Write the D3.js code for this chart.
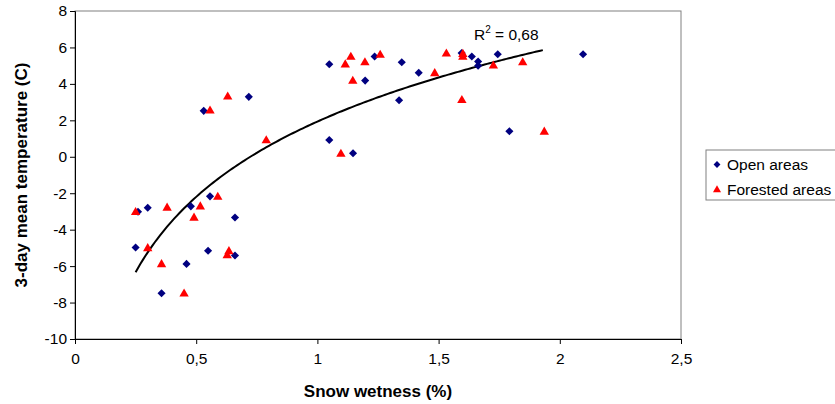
<!DOCTYPE html>
<html>
<head>
<meta charset="utf-8">
<script src="https://cdn.jsdelivr.net/npm/d3@7"></script>
<style>
  body { margin: 0; background: #fff; }
  text { font-family: "Liberation Sans", Arial, sans-serif; fill: #000; }
  .tick text { font-size: 15.5px; }
  .axis path, .axis line { stroke: #000; }
</style>
</head>
<body>
<div id="chart"></div>
<script>
//// DATA ////

// Open areas (snow wetness %, temperature C)
var openX = [0.26, 0.30, 0.478, 0.557, 0.66, 0.25, 0.549, 0.66, 0.46, 0.357,
  0.531, 0.717, 1.049, 1.236, 1.348, 1.197, 1.418, 1.337, 1.049, 1.147,
  1.595, 1.637, 1.663, 1.663, 1.744, 2.096, 1.792];
var openY = [-3.02, -2.80, -2.72, -2.17, -3.33, -4.98, -5.16, -5.42, -5.88, -7.49,
  2.52, 3.29, 5.08, 5.50, 5.19, 4.18, 4.61, 3.10, 0.92, 0.19,
  5.69, 5.50, 5.23, 5.00, 5.63, 5.63, 1.40];

// Forested areas
var forestX = [0.25, 0.38, 0.517, 0.589, 0.491, 0.30, 0.635, 0.628, 0.357, 0.45,
  0.557, 0.63, 0.789, 1.138, 1.115, 1.196, 1.259, 1.146, 1.484, 1.097,
  1.532, 1.60, 1.60, 1.726, 1.847, 1.596, 1.936];
var forestY = [-3.05, -2.81, -2.74, -2.21, -3.36, -5.03, -5.20, -5.42, -5.91, -7.52,
  2.52, 3.29, 0.89, 5.47, 5.05, 5.17, 5.58, 4.15, 4.57, 0.15,
  5.65, 5.63, 5.47, 4.99, 5.17, 3.10, 1.36];

var xTicks = [0, 0.5, 1, 1.5, 2, 2.5];
var yTicks = [-10, -8, -6, -4, -2, 0, 2, 4, 6, 8];
var seriesNames = ["Open areas", "Forested areas"];
var r2Text = "0,68"; // as printed on the chart

//// SET UP ////

var svgWidth = 835;
var svgHeight = 404;

var margin = { top: 11, right: 154, bottom: 65, left: 75 };
var width = svgWidth - margin.left - margin.right;
var height = svgHeight - margin.top - margin.bottom;

var svg = d3.select("#chart")
  .append("svg")
  .attr("width", svgWidth)
  .attr("height", svgHeight);

var chartGroup = svg.append("g")
  .attr("transform", `translate(${margin.left}, ${margin.top})`);

var xScale = d3.scaleLinear().domain([0, 2.5]).range([0, width]);
var yScale = d3.scaleLinear().domain([-10, 8]).range([height, 0]);

var fmt = d => String(d).replace(".", ",");

// plot area border (grey top / right)
chartGroup.append("rect")
  .attr("x", 0).attr("y", 0)
  .attr("width", width).attr("height", height)
  .attr("fill", "none")
  .attr("stroke", "#808080")
  .attr("stroke-width", 1);

// axes
var bottomAxis = d3.axisBottom(xScale).tickValues(xTicks).tickFormat(fmt)
  .tickSizeInner(5).tickSizeOuter(5).tickPadding(9);
var leftAxis = d3.axisLeft(yScale).tickValues(yTicks).tickFormat(fmt)
  .tickSizeInner(5).tickSizeOuter(5).tickPadding(3);

chartGroup.append("g")
  .attr("class", "axis")
  .attr("transform", `translate(0, ${height})`)
  .call(bottomAxis);

chartGroup.append("g")
  .attr("class", "axis")
  .call(leftAxis);

//// TREND LINE (log fit on forested areas) ////

var lx = forestX.map(Math.log);
var mx = d3.mean(lx), my = d3.mean(forestY);
var sxy = d3.sum(lx, (v, i) => (v - mx) * (forestY[i] - my));
var sxx = d3.sum(lx, v => (v - mx) * (v - mx));
var slope = sxy / sxx;
var intercept = my - slope * mx;

var xs = d3.range(d3.min(forestX), d3.max(forestX) + 0.001, 0.01);
var line = d3.line()
  .x(d => xScale(d))
  .y(d => yScale(slope * Math.log(d) + intercept));

chartGroup.append("path")
  .datum(xs)
  .attr("d", line)
  .attr("fill", "none")
  .attr("stroke", "#000")
  .attr("stroke-width", 2);

var r2Label = chartGroup.append("text")
  .attr("x", 399)
  .attr("y", 29)
  .style("font-size", "15.5px");
r2Label.append("tspan").text("R");
r2Label.append("tspan").attr("dy", -7).style("font-size", "10px").text("2");
r2Label.append("tspan").attr("dy", 7).text(" = " + r2Text);

//// POINTS ////

var diamond = d3.symbol().type(d3.symbolDiamond2).size(42);
var triangle = d3.symbol().type(d3.symbolTriangle).size(38);

chartGroup.selectAll(".open")
  .data(openX.map((d, i) => [d, openY[i]]))
  .enter()
  .append("path")
  .attr("class", "open")
  .attr("d", diamond)
  .attr("transform", d => `translate(${xScale(d[0])}, ${yScale(d[1])})`)
  .attr("fill", "#000080");

chartGroup.selectAll(".forest")
  .data(forestX.map((d, i) => [d, forestY[i]]))
  .enter()
  .append("path")
  .attr("class", "forest")
  .attr("d", triangle)
  .attr("transform", d => `translate(${xScale(d[0])}, ${yScale(d[1])})`)
  .attr("fill", "#ff0000");

//// AXIS TITLES ////

chartGroup.append("text")
  .attr("x", 378 - margin.left)
  .attr("y", 397 - margin.top)
  .attr("text-anchor", "middle")
  .style("font-size", "17px")
  .style("font-weight", "bold")
  .text("Snow wetness (%)");

chartGroup.append("text")
  .attr("transform", "rotate(-90)")
  .attr("x", -(175 - margin.top))
  .attr("y", 27 - margin.left)
  .attr("text-anchor", "middle")
  .style("font-size", "17px")
  .style("font-weight", "bold")
  .text("3-day mean temperature (C)");

//// LEGEND ////

var legend = svg.append("g")
  .attr("transform", "translate(706, 150)");

legend.append("rect")
  .attr("x", 0).attr("y", 0)
  .attr("width", 140).attr("height", 50)
  .attr("fill", "#fff")
  .attr("stroke", "#808080");

var symbols = [d3.symbol().type(d3.symbolDiamond2).size(30), d3.symbol().type(d3.symbolTriangle).size(28)];
var colors = ["#000080", "#ff0000"];

seriesNames.forEach(function(name, i) {
  legend.append("path")
    .attr("d", symbols[i])
    .attr("transform", `translate(11, ${14.5 + i * 25.5})`)
    .attr("fill", colors[i]);
  legend.append("text")
    .attr("x", 21)
    .attr("y", 19.5 + i * 25)
    .style("font-size", "15.5px")
    .text(name);
});
</script>
</body>
</html>
